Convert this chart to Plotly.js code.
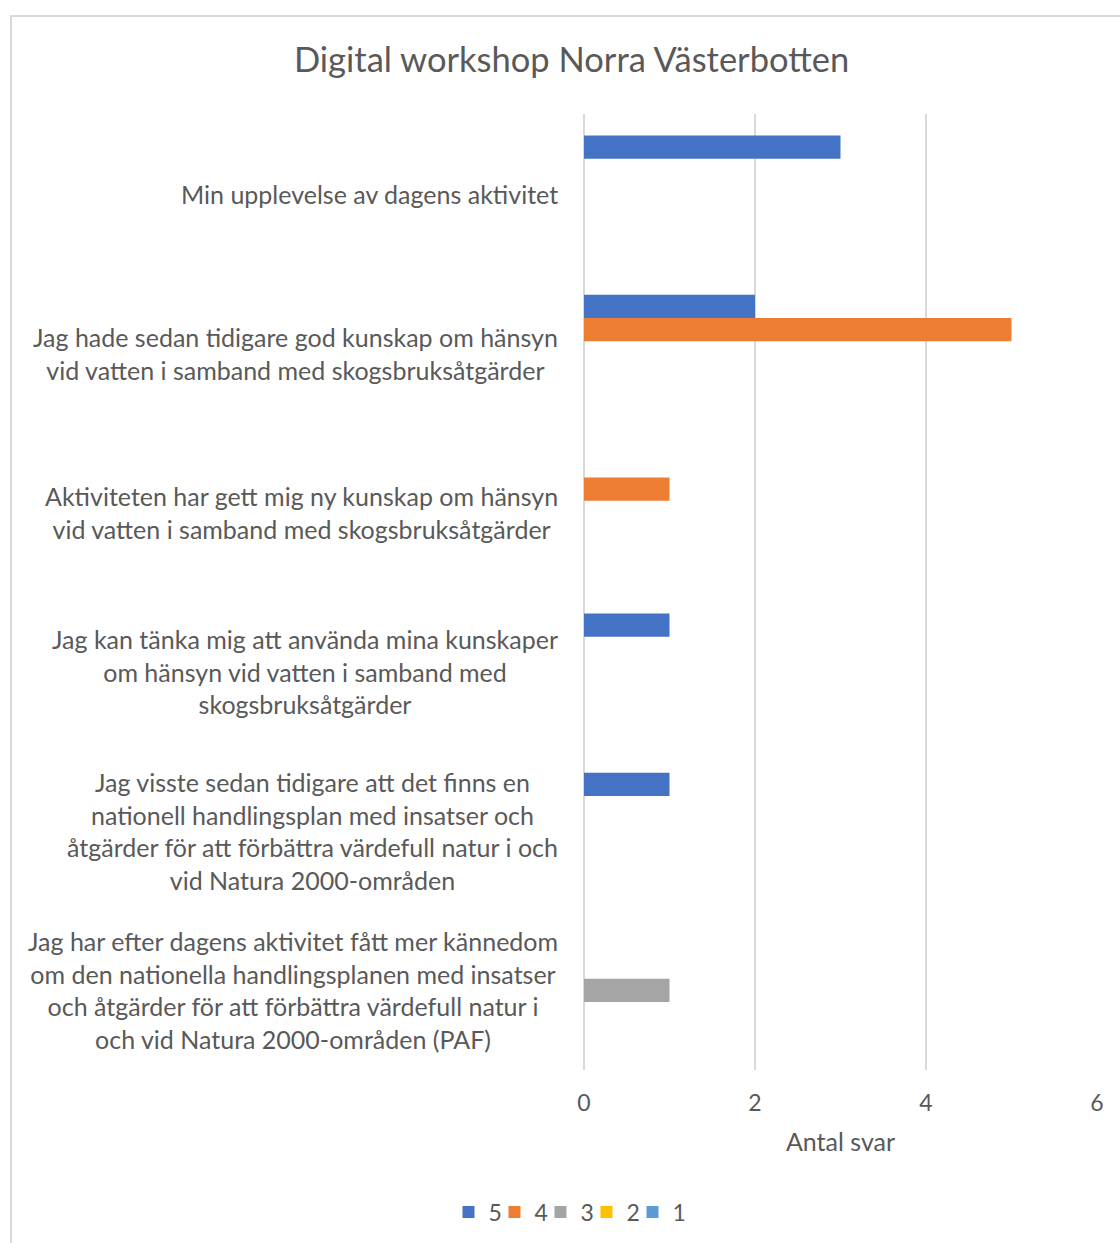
<!DOCTYPE html>
<html>
<head>
<meta charset="utf-8">
<script src="https://cdn.plot.ly/plotly-3.0.1.min.js"></script>
<style>
  html, body { margin: 0; padding: 0; background: #ffffff; overflow: hidden; }
  #frame { position: absolute; left: 10px; top: 15px; width: 1130px; height: 1250px;
           border-left: 2px solid #D9D9D9; border-top: 2px solid #D9D9D9; box-sizing: border-box; }
  #chart { position: absolute; left: 11px; top: 16px; width: 1110px; height: 1228px; }
</style>
</head>
<body>
<div id="frame"></div>
<div id="chart"></div>
<script>
// ---- data ----
const categories = [
  "Min upplevelse av dagens aktivitet",
  "Jag hade sedan tidigare god kunskap om hänsyn<br>vid vatten i samband med skogsbruksåtgärder",
  "Aktiviteten har gett mig ny kunskap om hänsyn<br>vid vatten i samband med skogsbruksåtgärder",
  "Jag kan tänka mig att använda mina kunskaper<br>om hänsyn vid vatten i samband med<br>skogsbruksåtgärder",
  "Jag visste sedan tidigare att det finns en<br>nationell handlingsplan med insatser och<br>åtgärder för att förbättra värdefull natur i och<br>vid Natura 2000-områden",
  "Jag har efter dagens aktivitet fått mer kännedom<br>om den nationella handlingsplanen med insatser<br>och åtgärder för att förbättra värdefull natur i<br>och vid Natura 2000-områden (PAF)"
];
const seriesNames = ["5", "4", "3", "2", "1"];
const values5 = [3, 2, 0, 1, 1, 0];
const values4 = [0, 5, 1, 0, 0, 0];
const values3 = [0, 0, 0, 0, 0, 1];
const values2 = [0, 0, 0, 0, 0, 0];
const values1 = [0, 0, 0, 0, 0, 0];
const xTicks = [0, 2, 4, 6];
const titleText = "Digital workshop Norra Västerbotten";
const xTitleText = "Antal svar";

// ---- styling ----
const colors = ["#4472C4", "#ED7D31", "#A5A5A5", "#FFC000", "#5B9BD5"];
const FONT = "Lato, 'Open Sans', sans-serif";
const TXT = "#595959";
const seriesValues = [values5, values4, values3, values2, values1];

const traces = seriesNames.map((name, i) => {
  const t = {
    type: "bar",
    orientation: "h",
    name: name,
    x: seriesValues[i],
    y: categories,
    marker: { color: colors[i], line: { width: 0 } },
    hoverinfo: "x+name"
  };
  if (i === seriesNames.length - 1) t.legendwidth = 16;
  return t;
});

const annotations = categories.map(c => ({
  text: c,
  xref: "paper", x: 0, xanchor: "right", xshift: -24,
  yref: "y", y: c, yanchor: "middle",
  align: "center",
  showarrow: false,
  font: { family: FONT, size: 25, color: TXT }
}));

const layout = {
  width: 1110, height: 1228,
  margin: { l: 573, r: 24, t: 98, b: 174, pad: 0 },
  paper_bgcolor: "rgba(0,0,0,0)",
  plot_bgcolor: "rgba(0,0,0,0)",
  font: { family: FONT, color: TXT },
  title: {
    text: titleText,
    font: { family: FONT, size: 34.5, color: TXT },
    xref: "container", x: 0.505, xanchor: "center",
    yref: "container", y: 1 - 44 / 1228, yanchor: "middle"
  },
  barmode: "group",
  bargap: 0.269,
  bargroupgap: 0,
  xaxis: {
    range: [0, 6],
    tickvals: xTicks,
    ticktext: xTicks.map(String),
    showgrid: true, gridcolor: "#D9D9D9", gridwidth: 1.5,
    zeroline: true, zerolinecolor: "#D9D9D9", zerolinewidth: 1.5,
    showline: false, ticks: "",
    tickfont: { family: FONT, size: 23, color: TXT },
    ticklabelstandoff: 17,
    title: { text: xTitleText, font: { family: FONT, size: 25, color: TXT }, standoff: 18 },
    fixedrange: true
  },
  yaxis: {
    type: "category",
    autorange: "reversed",
    showticklabels: false,
    showgrid: false, zeroline: false, showline: false, ticks: "",
    fixedrange: true
  },
  showlegend: true,
  legend: {
    orientation: "h",
    xref: "container", x: 0.509, xanchor: "center",
    yref: "container", y: 1 - 1196 / 1228, yanchor: "middle",
    traceorder: "normal",
    font: { family: FONT, size: 23, color: TXT },
    itemwidth: 30,
    indentation: -10,
    entrywidth: 11, entrywidthmode: "pixels"
  },
  annotations: annotations
};

Plotly.newPlot("chart", traces, layout, { displayModeBar: false, staticPlot: true });
</script>
</body>
</html>
